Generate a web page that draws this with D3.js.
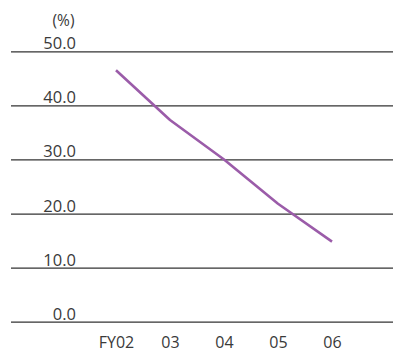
<!DOCTYPE html>
<html><head><meta charset="utf-8">
<script src="https://cdn.jsdelivr.net/npm/d3@7"></script>
<style>body{margin:0;background:#fff}svg{display:block}</style>
</head><body>
<script>
const categories = ["FY02","03","04","05","06"];
const values = [46.5, 37.3, 30.0, 21.8, 14.8];
const yTicks = [0,10,20,30,40,50];
const unitLabel = "(%)";

const W = 393, H = 351;
const svg = d3.select("body").append("svg").attr("width", W).attr("height", H);
const font = "'Open Sans', 'Noto Sans', sans-serif";

const y = d3.scaleLinear().domain([0,50]).range([321.7, 51.3]);
const x = d3.scalePoint().domain(categories).range([116, 332]);

const yAxis = d3.axisRight(y).tickValues(yTicks).tickSize(382).tickFormat(d => d.toFixed(1));
const gy = svg.append("g").attr("transform","translate(11,0)").call(yAxis);
gy.select(".domain").remove();
gy.selectAll(".tick line").attr("stroke","#333").attr("stroke-width",1.3);
gy.selectAll(".tick text")
  .attr("x", 65).attr("dy", -2.5).attr("text-anchor","end")
  .attr("dominant-baseline","auto")
  .attr("fill","#3a3a3a").style("font-family",font).style("font-size","16.5px");

svg.append("text").attr("x", 74.5).attr("y", 26).attr("text-anchor","end")
  .attr("fill","#3a3a3a").style("font-family",font).style("font-size","15.5px").text(unitLabel);

const xAxis = d3.axisBottom(x).tickSize(0);
const gx = svg.append("g").attr("transform","translate(0,335)").call(xAxis);
gx.select(".domain").remove();
gx.selectAll(".tick text").attr("dy", 0).attr("y", 12.5)
  .attr("fill","#3a3a3a").style("font-family",font).style("font-size","16px");

const line = d3.line().x((d,i)=>x(categories[i])).y(d=>y(d));
svg.append("path").datum(values).attr("d", line)
  .attr("fill","none").attr("stroke","#9b5ca9").attr("stroke-width",2.6)
  .attr("stroke-linejoin","round");
</script>
</body></html>
